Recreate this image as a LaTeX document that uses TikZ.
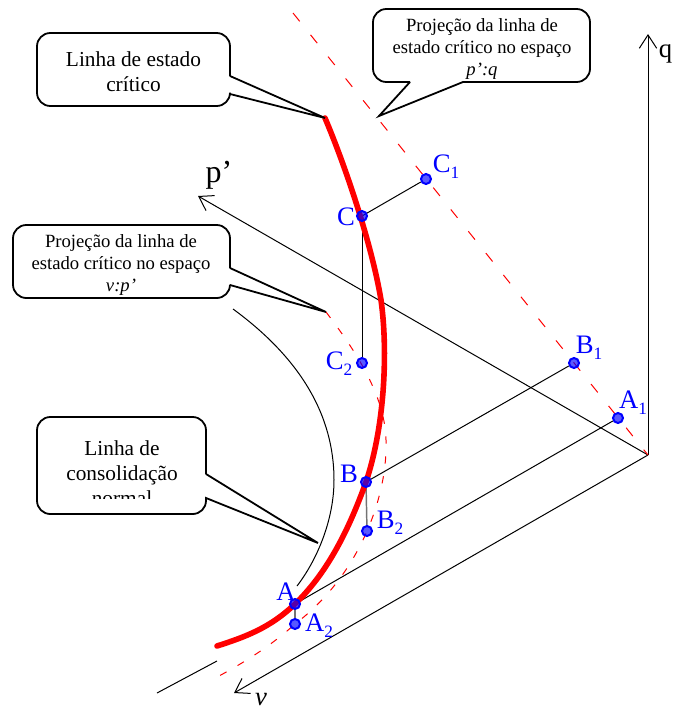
\documentclass[tikz,border=0pt]{standalone}
\usepackage{fontspec}
\setmainfont{Liberation Serif}
\usetikzlibrary{arrows.meta}
\definecolor{cred}{HTML}{FF0000}
\definecolor{cblue}{HTML}{0000FF}
\newcommand{\sbs}[1]{\raisebox{-0.22em}{\fontsize{13}{13}\selectfont #1}}
\tikzset{
  callout/.style={draw=black, fill=white, line width=1.35pt, line join=miter},
  calltxt/.style={align=center, inner sep=0pt, font=\fontsize{16}{18.75}\selectfont},
  calltxts/.style={align=center, inner sep=0pt, font=\fontsize{14}{16.5}\selectfont},
  axisline/.style={draw=black, line width=0.75pt, -{Straight Barb[length=10pt, width=13pt, line width=0.75pt]}},
  thinline/.style={draw=black, line width=0.75pt},
  greyline/.style={draw=black!55, line width=1.1pt},
  projline/.style={draw=cred, line width=0.75pt, dash pattern=on 8pt off 13pt},
  projcurve/.style={draw=cred, line width=0.75pt, dash pattern=on 5.5pt off 9.5pt},
  ptmark/.style={circle, draw=cblue, fill=cblue, fill opacity=0.65, draw opacity=1, line width=1.5pt, inner sep=0pt, minimum size=7.5pt},
  ptlabel/.style={text=cblue, inner sep=0pt, font=\fontsize{20}{20}\selectfont},
  axlabel/.style={text=black, inner sep=0pt, font=\fontsize{24}{24}\selectfont}
}
\begin{document}
\begin{tikzpicture}[x=0.75pt, y=-0.75pt]
  \useasboundingbox (0,0) rectangle (673,711);
  \coordinate (o) at (648,455);
  \coordinate (qend) at (648,34);
  \coordinate (pend) at (198,196);
  \coordinate (vend) at (234,693);
  \coordinate (projtop) at (293,13);
  \draw[axisline] (o) -- (qend);
  \draw[axisline] (o) -- (pend);
  \draw[axisline] (o) -- (vend);
  \draw[projline] (projtop) -- (o);
  \draw[projcurve] (326,312) .. controls (355,350) and (385,395) .. (386,440) .. controls (388,495) and (360,575) .. (295,624) .. controls (272,645) and (245,662) .. (219,676);
  \draw[thinline] (233,309) .. controls (300,358) and (334,415) .. (334,480) .. controls (334,520) and (317,560) .. (297,586);
  \draw[thinline] (217,661) -- (157,693);
  \node[ptmark] (a1) at (618,418) {};
  \node[ptmark] (b1) at (574,363) {};
  \node[ptmark] (c1) at (426,179) {};
  \node[ptmark] (a2) at (295,624) {};
  \node[ptmark] (b2) at (367,531) {};
  \node[ptmark] (c2) at (362,363) {};
  \coordinate (a) at (295,604);
  \coordinate (b) at (366,482);
  \coordinate (c) at (362,216);
  \draw[thinline] (a) -- (a1);
  \draw[thinline] (b) -- (b1);
  \draw[thinline] (c) -- (c1);
  \draw[thinline] (c) -- (c2);
  \draw[greyline] (a) -- (a2);
  \draw[greyline] (b) -- (b2);
  \draw[cred, line width=4.2pt, line cap=round] (325,118) .. controls (345,165) and (372,245) .. (381,300) .. controls (388,350) and (385,425) .. (b) .. controls (347,535) and (325,575) .. (a) .. controls (270,628) and (245,637) .. (217,646);
  \node[ptmark] (pa) at (a) {};
  \node[ptmark] (pb) at (b) {};
  \node[ptmark] (pc) at (c) {};
  \node[ptlabel] (la) at (286,592) {A};
  \node[ptlabel] (lb) at (349,474) {B};
  \node[ptlabel] (lc) at (346,217) {C};
  \node[ptlabel] (la1) at (633,403) {A\sbs{1}};
  \node[ptlabel] (lb1) at (589,348) {B\sbs{1}};
  \node[ptlabel] (lc1) at (446,167) {C\sbs{1}};
  \node[ptlabel] (la2) at (319,626) {A\sbs{2}};
  \node[ptlabel] (lb2) at (390,523) {B\sbs{2}};
  \node[ptlabel] (lc2) at (339,364) {C\sbs{2}};
  \node[axlabel] (lp) at (219,175) {p’};
  \node[axlabel, font=\fontsize{20}{20}\selectfont] (lq) at (665.5,54) {q};
  \node[axlabel, font=\fontsize{20}{20}\selectfont\itshape] (lv) at (261,700) {v};
  \draw[callout] (230,76) -- (325,118) -- (230,94) [rounded corners=10pt] -- (230,106) -- (37,106) -- (37,33) -- (230,33) -- (230,76);
  \draw[callout] (230,268) -- (326,312) -- (230,285) [rounded corners=10pt] -- (230,298) -- (13,298) -- (13,225) -- (230,225) -- (230,268);
  \draw[callout] (410,82) -- (379,116) -- (463,82) [rounded corners=10pt] -- (590,82) -- (590,9) -- (373,9) -- (373,82) -- (410,82);
  \draw[callout] (206,474) -- (318,543) -- (206,498) [rounded corners=10pt] -- (206,514) -- (37,514) -- (37,417) -- (206,417) -- (206,474);
  \node[calltxt] (tcrit) at (133.5,72) {Linha de estado\\crítico};
  \node[calltxts] (tvp) at (121,265) {Projeção da linha de\\estado crítico no espaço\\\textit{v:p’}};
  \node[calltxts] (tpq) at (482,49) {Projeção da linha de\\estado crítico no espaço\\\textit{p’:q}};
  \begin{scope}
    \clip (40,420) rectangle (204,498);
    \node[calltxt] (tncl) at (122,473) {Linha de\\consolidação\\normal};
  \end{scope}
\end{tikzpicture}
\end{document}
